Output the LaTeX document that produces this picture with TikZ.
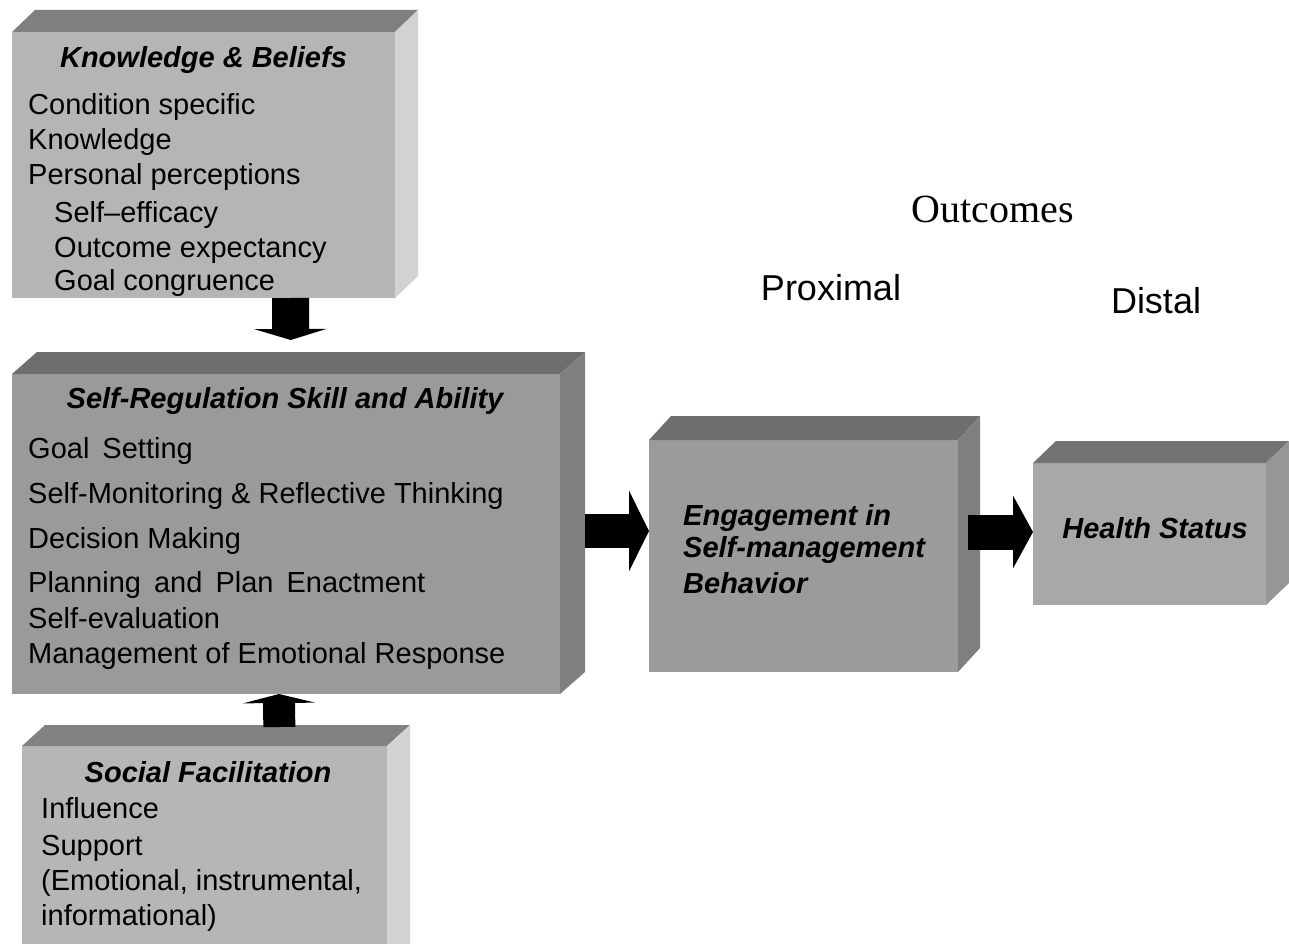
\documentclass[tikz,border=0pt]{standalone}
\usepackage{fontspec}
\setmainfont{Liberation Sans}
\newfontfamily\outserif{Liberation Serif}
\usetikzlibrary{arrows.meta}
\definecolor{kbF}{RGB}{181,181,181}\definecolor{kbT}{RGB}{127,127,127}\definecolor{kbS}{RGB}{210,210,210}
\definecolor{srF}{RGB}{154,154,154}\definecolor{srT}{RGB}{110,110,110}\definecolor{srS}{RGB}{128,128,128}
\definecolor{enF}{RGB}{155,155,155}\definecolor{enT}{RGB}{110,110,110}\definecolor{enS}{RGB}{127,127,127}
\definecolor{hsF}{RGB}{168,168,168}\definecolor{hsT}{RGB}{115,115,115}\definecolor{hsS}{RGB}{150,150,150}
\definecolor{sfF}{RGB}{182,182,182}\definecolor{sfT}{RGB}{130,130,130}\definecolor{sfS}{RGB}{211,211,211}
\newcommand{\boxfaces}[5]{%
  \fill[#4] (#1.north west) -- ([shift={(#2pt,#3pt)}]#1.north west) -- ([shift={(#2pt,#3pt)}]#1.north east) -- (#1.north east) -- cycle;
  \fill[#5] (#1.north east) -- ([shift={(#2pt,#3pt)}]#1.north east) -- ([shift={(#2pt,#3pt)}]#1.south east) -- (#1.south east) -- cycle;}
\newcommand{\ws}{\hspace{5pt}}
\tikzset{
  frontface/.style={inner sep=0pt, outer sep=0pt, anchor=north west},
  body/.style={anchor=base west, inner sep=0pt, font=\fontsize{29}{34}\selectfont},
  ttl/.style={anchor=base, inner sep=0pt, font=\fontsize{29}{33}\selectfont\bfseries\itshape},
  ttlw/.style={anchor=base west, inner sep=0pt, font=\fontsize{29}{33}\selectfont\bfseries\itshape},
  hdr/.style={anchor=base, inner sep=0pt, font=\fontsize{36}{40}\selectfont},
  blockarrow/.style={draw=black, line width=#1},
}
\begin{document}
\begin{tikzpicture}[x=1pt,y=-1pt]
\useasboundingbox (0,0) rectangle (1289,944);
\clip (0,0) rectangle (1289,944);
\fill[white] (0,0) rectangle (1289,944);
% boxes
\node[frontface, fill=kbF, minimum width=383pt, minimum height=266pt] (kb) at (12,32) {};
\boxfaces{kb}{23}{22}{kbT}{kbS}
\node[frontface, fill=srF, minimum width=548pt, minimum height=320pt] (sr) at (12,374) {};
\boxfaces{sr}{25}{22}{srT}{srS}
\node[frontface, fill=enF, minimum width=309pt, minimum height=232pt] (en) at (649,440) {};
\boxfaces{en}{22}{24}{enT}{enS}
\node[frontface, fill=hsF, minimum width=233pt, minimum height=142pt] (hs) at (1033,463) {};
\boxfaces{hs}{23}{22}{hsT}{hsS}
\node[frontface, fill=sfF, minimum width=365pt, minimum height=230pt] (sf) at (22,746) {};
\boxfaces{sf}{23}{21}{sfT}{sfS}
% arrows
\draw[blockarrow=37pt, -{Triangle[length=11pt,width=72pt]}, shorten >=34pt] ([xshift=87pt]kb.south) -- ([xshift=5pt]sr.north);
\draw[blockarrow=32pt, -{Triangle[length=9pt,width=72pt]}, shorten <=19pt] ([xshift=75pt]sf.north) -- ([xshift=-7pt]sr.south);
\draw[blockarrow=34pt, -{Triangle[length=20pt,width=80pt]}, shorten <=25pt] ([yshift=3pt]sr.east) -- ([yshift=25pt]en.west);
\draw[blockarrow=35pt, -{Triangle[length=20pt,width=72pt]}, shorten <=10pt] ([yshift=24pt]en.east) -- ([yshift=2pt]hs.west);
% knowledge & beliefs
\node[ttl] (kbt) at (203.5,68) {Knowledge \& Beliefs};
\node[body] (kb1) at (28,115) {Condition specific};
\node[body] (kb2) at (28,150) {Knowledge};
\node[body] (kb3) at (28,185) {Personal perceptions};
\node[body] (kb4) at (54,222) {Self–efficacy};
\node[body] (kb5) at (54,257) {Outcome expectancy};
\node[body] (kb6) at (54,290) {Goal congruence};
% self-regulation
\node[ttl] (srt) at (285,408) {Self-Regulation Skill and Ability};
\node[body] (sr1) at (28,458) {Goal\ws{} Setting};
\node[body] (sr2) at (28,503) {Self-Monitoring \& Reflective Thinking};
\node[body] (sr3) at (28,548) {Decision Making};
\node[body] (sr4) at (28,592) {Planning\ws{} and\ws{} Plan\ws{} Enactment};
\node[body] (sr5) at (28,628) {Self-evaluation};
\node[body] (sr6) at (28,663) {Management of Emotional Response};
% social facilitation
\node[ttl] (sft) at (208,782) {Social Facilitation};
\node[body] (sf1) at (41,818) {Influence};
\node[body] (sf2) at (41,855) {Support};
\node[body] (sf3) at (41,890) {(Emotional, instrumental,};
\node[body] (sf4) at (41,925) {informational)};
% engagement
\node[ttlw] (en1) at (683,525) {Engagement in};
\node[ttlw] (en2) at (683,557) {Self-management};
\node[ttlw] (en3) at (683,593) {Behavior};
% health
\node[ttl] (hst) at (1155,538) {Health Status};
% headers
\node[anchor=base, inner sep=0pt, font=\fontsize{40}{44}\outserif] (out) at (993,222) {Outcomes};
\node[hdr] (prox) at (831,300) {Proximal};
\node[hdr] (dist) at (1156,313) {Distal};
\end{tikzpicture}
\end{document}
